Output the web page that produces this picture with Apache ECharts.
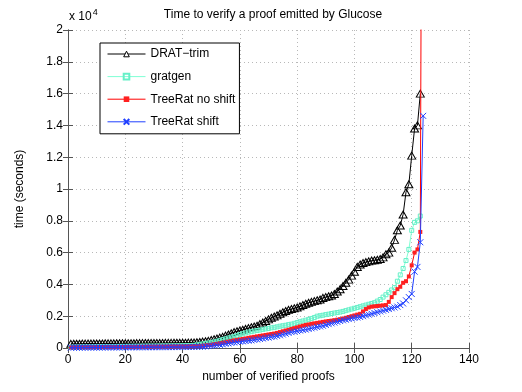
<!DOCTYPE html>
<html>
<head>
<meta charset="utf-8">
<script src="https://cdn.jsdelivr.net/npm/echarts@6/dist/echarts.min.js"></script>
<style>
  html, body { margin: 0; padding: 0; background: #fff; }
  #chart { width: 522px; height: 392px; }
</style>
</head>
<body>
<div id="chart"></div>
<script>
// time (seconds) per verified proof, sorted ascending; x = 1..N
const drat = [
  260, 265, 270, 270, 275, 275, 280, 280, 280, 285,
  285, 285, 290, 290, 290, 290, 295, 295, 295, 300,
  300, 300, 300, 305, 305, 305, 310, 310, 310, 310,
  315, 315, 315, 320, 320, 320, 325, 325, 330, 330,
  335, 340, 345, 350, 360, 380, 400, 420, 450, 500,
  550, 600, 650, 700, 780, 850, 920, 1000, 1050, 1100,
  1150, 1200, 1250, 1300, 1350, 1400, 1500, 1600, 1700, 1800,
  1900, 1980, 2050, 2150, 2250, 2330, 2400, 2450, 2500, 2550,
  2620, 2700, 2780, 2850, 2900, 2950, 3000, 3050, 3150, 3200,
  3250, 3300, 3400, 3550, 3700, 3900, 4100, 4300, 4550, 4800,
  5100, 5250, 5350, 5400, 5450, 5500, 5520, 5550, 5600, 5700,
  5900, 6000, 6300, 6800, 7400, 7700, 8400, 9800, 10300, 12100,
  13800, 14000, 16000
]
const gratgen = [
  50, 55, 60, 60, 65, 70, 70, 75, 75, 80,
  80, 85, 85, 90, 90, 95, 95, 100, 100, 100,
  105, 105, 110, 110, 110, 115, 115, 120, 120, 120,
  125, 125, 130, 130, 130, 135, 135, 140, 140, 145,
  150, 155, 160, 170, 200, 230, 260, 290, 320, 350,
  390, 430, 480, 530, 580, 630, 680, 720, 780, 850,
  900, 950, 1000, 1030, 1070, 1100, 1130, 1170, 1200, 1230,
  1270, 1300, 1330, 1370, 1400, 1430, 1470, 1500, 1550, 1600,
  1650, 1700, 1750, 1800, 1850, 1920, 2000, 2030, 2060, 2100,
  2130, 2170, 2200, 2230, 2260, 2300, 2350, 2400, 2450, 2500,
  2550, 2600, 2650, 2700, 2750, 2800, 2850, 2950, 3050, 3200,
  3350, 3500, 3650, 3800, 4200, 4600, 5000, 5500, 6200, 7400,
  7900, 8000, 8300
]
const noShift = [
  30, 32, 35, 37, 40, 42, 44, 46, 48, 50,
  50, 52, 54, 55, 56, 58, 60, 60, 62, 63,
  64, 65, 66, 68, 70, 70, 72, 74, 75, 76,
  78, 80, 80, 82, 84, 85, 86, 88, 90, 92,
  95, 98, 100, 105, 110, 120, 140, 160, 180, 200,
  230, 260, 290, 320, 360, 400, 440, 480, 510, 540,
  570, 600, 640, 670, 700, 730, 760, 790, 820, 850,
  880, 910, 950, 1000, 1050, 1100, 1150, 1200, 1250, 1300,
  1350, 1400, 1450, 1480, 1520, 1550, 1580, 1610, 1640, 1670,
  1700, 1720, 1750, 1780, 1810, 1850, 1900, 1950, 2000, 2050,
  2100, 2150, 2300, 2450, 2550, 2600, 2620, 2640, 2660, 2680,
  2700, 2900, 3200, 3450, 3700, 3850, 4100, 4200, 4500, 5200,
  6000, 6200, 7300, 60000
]
const shift = [
  20, 22, 24, 25, 26, 28, 29, 30, 31, 32,
  33, 34, 35, 36, 37, 38, 39, 40, 40, 41,
  42, 43, 44, 45, 46, 47, 48, 49, 50, 50,
  51, 52, 53, 54, 55, 56, 57, 58, 59, 60,
  60, 62, 64, 66, 70, 75, 80, 100, 120, 140,
  160, 180, 200, 230, 260, 290, 320, 350, 380, 400,
  420, 440, 460, 480, 510, 540, 570, 600, 630, 660,
  690, 720, 760, 800, 850, 900, 950, 1000, 1030, 1060,
  1100, 1130, 1160, 1200, 1240, 1280, 1320, 1360, 1400, 1450,
  1500, 1550, 1600, 1650, 1700, 1740, 1780, 1820, 1860, 1890,
  1920, 1950, 2000, 2050, 2100, 2150, 2200, 2250, 2300, 2350,
  2400, 2450, 2500, 2550, 2600, 2700, 2800, 3000, 3200, 3400,
  4800, 5100, 6650, 14600
]

const FONT = 'Liberation Sans, Arial, sans-serif'
const AXIS_COLOR = '#555'

const toPoints = (arr) => arr.map((v, i) => [i + 1, v])

const chart = echarts.init(document.getElementById('chart'), null, { renderer: 'canvas' })

// 共用的軸設定 (刻度朝內)
const boxAxis = {
  axisLine: { show: true, lineStyle: { color: AXIS_COLOR, width: 1 } },
  axisTick: { show: true, inside: true, length: 5, lineStyle: { color: AXIS_COLOR } },
  splitLine: { show: false }
}

chart.setOption({
  animation: false,
  backgroundColor: '#fff',
  textStyle: { fontFamily: FONT },
  title: {
    text: 'Time to verify a proof emitted by Glucose',
    left: 268,
    top: 4,
    textAlign: 'center',
    textStyle: { fontSize: 12, fontWeight: 'normal', color: '#000', fontFamily: FONT }
  },
  graphic: [
    {
      type: 'text',
      left: 69,
      top: 8,
      style: {
        text: 'x 10{sup|4}',
        font: '12px ' + FONT,
        fill: '#000',
        rich: {
          sup: { fontSize: 9, verticalAlign: 'top', padding: [0, 0, 8, 1], fontFamily: FONT }
        }
      }
    }
  ],
  legend: {
    orient: 'vertical',
    left: 100,
    top: 43,
    itemWidth: 38,
    itemHeight: 7,
    itemGap: 10.6,
    padding: [5, 4, 6, 7],
    borderColor: '#000',
    borderWidth: 1,
    backgroundColor: '#fff',
    lineStyle: { width: 1 },
    textStyle: { fontSize: 12, color: '#000', fontFamily: FONT },
    data: [
      { name: 'DRAT\u2212trim', itemStyle: { color: '#fff', borderColor: '#000', borderWidth: 1 } },
      'gratgen',
      'TreeRat no shift',
      'TreeRat shift'
    ]
  },
  grid: { left: 68, right: 53, top: 30, bottom: 44 },
  xAxis: [
    {
      ...boxAxis,
      type: 'value',
      min: 0,
      max: 140,
      interval: 20,
      name: 'number of verified proofs',
      nameLocation: 'middle',
      nameGap: 17,
      nameTextStyle: { fontSize: 12, color: '#000', fontFamily: FONT },
      axisLabel: { color: '#000', fontSize: 12, margin: 6, fontFamily: FONT },
      splitLine: { show: true, lineStyle: { color: '#b8b8b8', type: [1, 3], width: 1 } }
    },
    {
      ...boxAxis,
      type: 'value',
      position: 'top',
      min: 0,
      max: 140,
      interval: 20,
      axisLabel: { show: false }
    }
  ],
  yAxis: [
    {
      ...boxAxis,
      type: 'value',
      min: 0,
      max: 20000,
      interval: 2000,
      name: 'time (seconds)',
      nameLocation: 'middle',
      nameGap: 42,
      nameTextStyle: { fontSize: 12, color: '#000', fontFamily: FONT },
      axisLabel: {
        color: '#000',
        fontSize: 12,
        margin: 5,
        fontFamily: FONT,
        formatter: (v) => String(+(v / 10000).toFixed(1))
      },
      splitLine: { show: true, lineStyle: { color: '#b8b8b8', type: [1, 3], width: 1 } }
    },
    {
      ...boxAxis,
      type: 'value',
      position: 'right',
      min: 0,
      max: 20000,
      interval: 2000,
      axisLabel: { show: false }
    }
  ],
  series: [
    {
      name: 'DRAT\u2212trim',
      type: 'line',
      data: toPoints(drat),
      symbol: 'path://M5,0 L10,9 L0,9 Z',
      symbolSize: [8, 7],
      showAllSymbol: true,
      lineStyle: { color: '#000', width: 1 },
      itemStyle: { color: 'rgba(0,0,0,0)', borderColor: '#000', borderWidth: 1 },
      z: 2
    },
    {
      name: 'gratgen',
      type: 'line',
      data: toPoints(gratgen),
      symbol: 'rect',
      symbolSize: 4,
      showAllSymbol: true,
      lineStyle: { color: '#7fffd4', width: 1 },
      itemStyle: { color: 'rgba(0,0,0,0)', borderColor: '#66f0c8', borderWidth: 1 },
      z: 3
    },
    {
      name: 'TreeRat no shift',
      type: 'line',
      data: toPoints(noShift),
      symbol: 'rect',
      symbolSize: 4,
      showAllSymbol: true,
      lineStyle: { color: '#ff0000', width: 1 },
      itemStyle: { color: '#ff2020', borderWidth: 0 },
      z: 4
    },
    {
      name: 'TreeRat shift',
      type: 'line',
      data: toPoints(shift),
      symbol: 'path://M0,0 L10,10 M10,0 L0,10',
      symbolSize: 6,
      showAllSymbol: true,
      lineStyle: { color: '#2040ff', width: 1 },
      itemStyle: { color: 'rgba(0,0,0,0)', borderColor: '#2040ff', borderWidth: 1 },
      z: 5
    }
  ]
})
</script>
</body>
</html>
